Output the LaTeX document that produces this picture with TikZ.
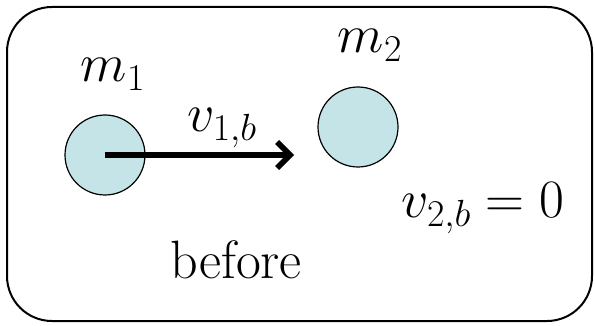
\documentclass[tikz,border=0pt]{standalone}
\usepackage{fix-cm}
\usetikzlibrary{arrows.meta, positioning}
\definecolor{ballblue}{RGB}{196,228,231}

\begin{document}
\begin{tikzpicture}[
    x=1pt, y=-1pt,
    every node/.style={font=\fontsize{54}{64}\selectfont},
    label/.style={anchor=base, inner sep=0pt},
    ball/.style={circle, draw, line width=1.2pt, fill=ballblue, minimum size=80pt, inner sep=0pt},
    frame/.style={draw, line width=2pt, rounded corners=45pt},
    arrow/.style={-{Straight Barb[length=13pt, width=26pt]}, line width=5.5pt}
]
\useasboundingbox (0,0) rectangle (595,326);

% Frame
\draw[frame] (7,7) rectangle (592,321);

% Nodes
\node[ball] (Ball1) at (105,155) {};
\node[ball] (Ball2) at (358,127) {};
\node[label] (Mass1) at (113,82) {$m_1$};
\node[label] (Mass2) at (370,53) {$m_2$};
\node[label] (Vel1) at (222,132) {$v_{1,b}$};
\node[label] (Vel2) at (483,218) {$v_{2,b}=0$};
\node[label] (Before) at (236,278) {before};
\coordinate (ArrowEnd) at (294,155);

% Edges
\draw[arrow] (Ball1.center) -- (ArrowEnd);

\end{tikzpicture}
\end{document}
